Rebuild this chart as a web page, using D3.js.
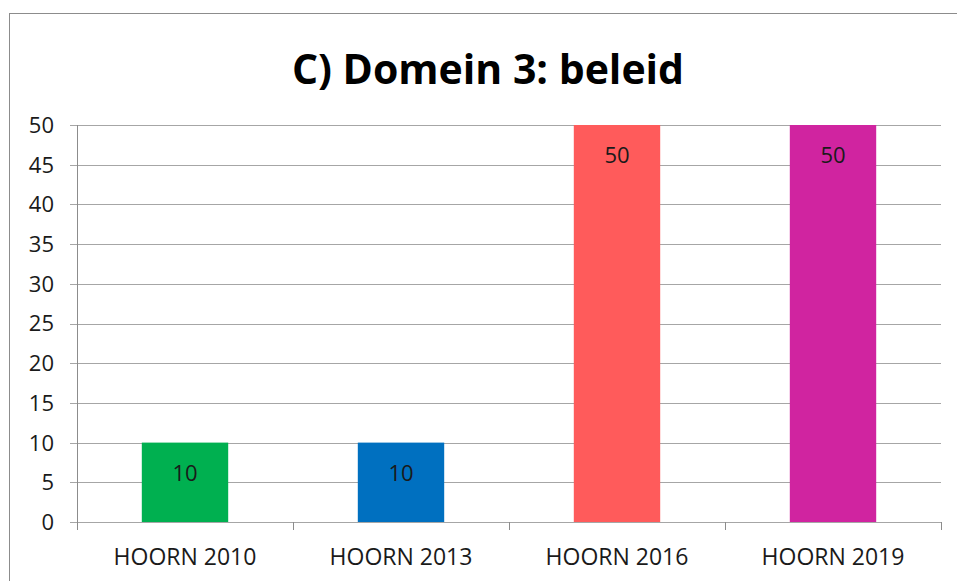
<!DOCTYPE html>
<html>
<head>
<meta charset="utf-8">
<script src="https://cdn.jsdelivr.net/npm/d3@7"></script>
<style>
  body { margin: 0; background: #fff; }
  svg { display: block; }
</style>
</head>
<body>
<svg id="chart" width="957" height="581"></svg>
<script>
const categories = ['HOORN 2010', 'HOORN 2013', 'HOORN 2016', 'HOORN 2019']
const values = [10, 10, 50, 50]
const colors = ['#00B050', '#0070C0', '#FF5B5B', '#D024A0']
const yTicks = [0, 5, 10, 15, 20, 25, 30, 35, 40, 45, 50]
const title = 'C) Domein 3: beleid'

const font = "'Open Sans', 'Liberation Sans', sans-serif"
const svg = d3.select('#chart')

// chart frame (only top and left edges are inside the picture)
svg.append('rect')
  .attr('x', 9.5).attr('y', 13.5)
  .attr('width', 1000).attr('height', 1000)
  .attr('fill', '#fff')
  .attr('stroke', '#8c8c8c')

const x = d3.scaleBand().domain(categories).range([77, 941]).paddingInner(0.6).paddingOuter(0.3)
const y = d3.scaleLinear().domain([0, 50]).range([522, 125])

svg.append('text')
  .attr('x', 488).attr('y', 84)
  .attr('text-anchor', 'middle')
  .attr('font-family', font)
  .attr('font-weight', 'bold')
  .attr('font-size', 41)
  .attr('fill', '#000')
  .text(title)

// gridlines
svg.append('g')
  .selectAll('line')
  .data(yTicks)
  .join('line')
  .attr('x1', 70).attr('x2', 941)
  .attr('y1', d => Math.round(y(d)) + 0.5).attr('y2', d => Math.round(y(d)) + 0.5)
  .attr('stroke', '#a6a6a6')
  .attr('stroke-width', 1)

svg.append('g')
  .selectAll('text')
  .data(yTicks)
  .join('text')
  .attr('x', 54).attr('y', d => y(d))
  .attr('dy', '0.36em')
  .attr('text-anchor', 'end')
  .attr('font-family', font)
  .attr('font-size', 22)
  .attr('fill', '#1a1a1a')
  .text(d => d)

// bars
svg.append('g')
  .selectAll('rect')
  .data(values)
  .join('rect')
  .attr('x', (d, i) => x(categories[i]))
  .attr('width', x.bandwidth())
  .attr('y', d => y(d))
  .attr('height', d => y(0) - y(d))
  .attr('fill', (d, i) => colors[i])

svg.append('g')
  .selectAll('text')
  .data(values)
  .join('text')
  .attr('x', (d, i) => x(categories[i]) + x.bandwidth() / 2)
  .attr('y', d => y(d) + 30)
  .attr('dy', '0.36em')
  .attr('text-anchor', 'middle')
  .attr('font-family', font)
  .attr('font-size', 22)
  .attr('fill', '#1a1a1a')
  .text(d => d)

// y axis line
svg.append('line')
  .attr('x1', 77.5).attr('x2', 77.5)
  .attr('y1', 125).attr('y2', 530)
  .attr('stroke', '#8c8c8c')

// category ticks
const bounds = [77, 293, 509, 725, 941]
svg.append('g')
  .selectAll('line')
  .data(bounds)
  .join('line')
  .attr('x1', d => d + 0.5).attr('x2', d => d + 0.5)
  .attr('y1', 522).attr('y2', 530)
  .attr('stroke', '#8c8c8c')

svg.append('g')
  .selectAll('text')
  .data(categories)
  .join('text')
  .attr('x', d => x(d) + x.bandwidth() / 2)
  .attr('y', 557)
  .attr('dy', '0.36em')
  .attr('text-anchor', 'middle')
  .attr('font-family', font)
  .attr('font-size', 23)
  .attr('fill', '#1a1a1a')
  .text(d => d)
</script>
</body>
</html>
